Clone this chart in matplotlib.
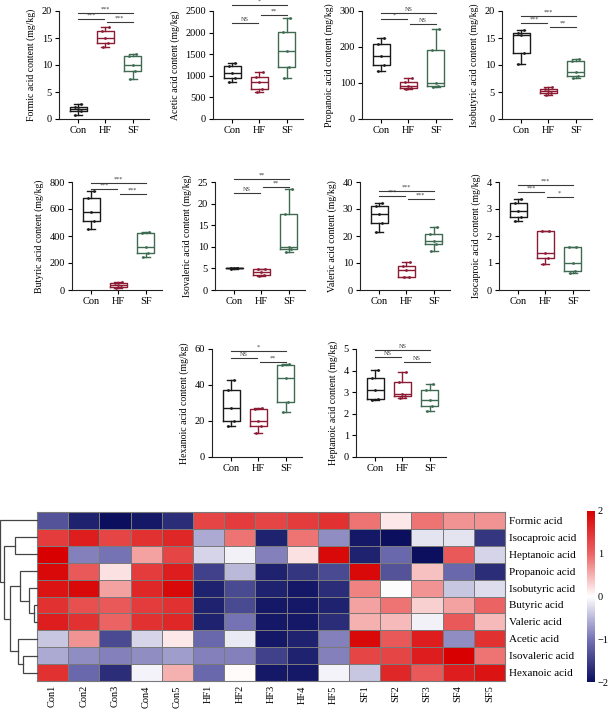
import numpy as np
import matplotlib
matplotlib.use("Agg")
import matplotlib.pyplot as plt
from matplotlib.colors import LinearSegmentedColormap

plt.rcParams['font.family'] = ['Liberation Serif', 'DejaVu Serif']

# ---------------- box plot data ----------------
groups = ["Con", "HF", "SF"]
box_acids = ["Formic", "Acetic", "Propanoic", "Isobutyric", "Butyric",
             "Isovaleric", "Valeric", "Isocaproic", "Hexanoic", "Heptanoic"]
con_vals = [[0.8, 1.5, 1.8, 2.3, 2.7],
            [850, 960, 1070, 1220, 1300],
            [132, 150, 175, 208, 225],
            [10.2, 12.2, 15.6, 16.0, 16.5],
            [450, 510, 580, 680, 730],
            [4.9, 5.0, 5.0, 5.1, 5.2],
            [21.5, 24.7, 28.0, 31.0, 32.2],
            [2.55, 2.72, 2.93, 3.22, 3.38],
            [17, 20, 27, 37, 43],
            [2.65, 2.7, 3.1, 3.65, 4.05]]
hf_vals = [[13.4, 14.1, 15.0, 16.3, 17.0],
           [620, 700, 850, 980, 1080],
           [82, 85, 92, 104, 115],
           [4.4, 4.8, 5.1, 5.5, 5.9],
           [18, 25, 35, 50, 62],
           [3.2, 3.5, 4.2, 4.8, 4.9],
           [4.8, 5.0, 7.3, 8.8, 10.3],
           [0.95, 1.18, 1.38, 2.18, 2.2],
           [13.5, 17, 20, 26.5, 27],
           [2.72, 2.82, 2.9, 3.45, 3.95]]
sf_vals = [[7.4, 8.8, 10.0, 11.6, 12.0],
           [950, 1200, 1580, 2010, 2330],
           [88, 92, 100, 193, 250],
           [7.6, 8.0, 8.7, 10.8, 11.2],
           [245, 275, 320, 420, 430],
           [8.7, 9.5, 9.9, 17.7, 23.3],
           [14.5, 16.9, 18.3, 20.9, 23.3],
           [0.62, 0.72, 1.0, 1.6, 1.6],
           [25, 30.5, 44, 51, 51.5],
           [2.15, 2.35, 2.62, 3.1, 3.38]]
y_max = [20, 2500, 300, 20, 800, 25, 40, 4, 60, 5]
y_step = [5, 500, 100, 5, 200, 5, 10, 1, 20, 1]

sig_con_sf = ["***", "*", "NS", "***", "***", "**", "***", "***", "*", "NS"]
sig_con_hf = ["***", "NS", "*", "***", "***", "NS", "***", "***", "NS", "NS"]
sig_hf_sf = ["***", "**", "NS", "**", "***", "**", "***", "*", "**", "NS"]
bar_con_sf = [19.7, 2640, 294, 19.1, 795, 25.6, 36.8, 3.9, 59, 4.95]
bar_con_hf = [18.5, 2220, 278, 17.8, 750, 22.5, 35.0, 3.63, 55, 4.63]
bar_hf_sf = [17.9, 2406, 264, 17.0, 712, 23.9, 33.6, 3.45, 52.8, 4.4]

# ---------------- heatmap data ----------------
heat_rows = ["Formic acid", "Isocaproic acid", "Heptanoic acid", "Propanoic acid",
             "Isobutyric acid", "Butyric acid", "Valeric acid", "Acetic acid",
             "Isovaleric acid", "Hexanoic acid"]
heat_cols = ["Con1", "Con2", "Con3", "Con4", "Con5",
             "HF1", "HF2", "HF3", "HF4", "HF5",
             "SF1", "SF2", "SF3", "SF4", "SF5"]
heat_vals = [
    [-1.3, -1.8, -2.0, -1.9, -1.7, 1.3, 1.4, 1.3, 1.4, 1.5, 0.9, 0.15, 0.9, 0.7, 0.7],
    [1.4, 1.7, 1.3, 1.5, 1.6, -0.6, 0.9, -1.8, 0.9, -0.8, -1.9, -2.0, -0.2, -0.2, -1.6],
    [2.0, -0.9, -1.0, 0.6, 1.3, -0.3, -0.1, -0.9, 0.2, 1.9, -1.8, -1.1, -2.0, 1.1, -0.3],
    [1.9, 1.1, 0.2, 1.4, 1.7, -1.5, -0.5, -1.8, -1.6, -1.4, 1.9, -1.3, 0.4, -1.1, -1.7],
    [1.8, 1.9, 0.6, 1.6, 1.9, -1.8, -1.4, -1.8, -1.9, -1.7, 0.8, -0.02, 0.7, -0.4, -0.25],
    [1.5, 1.2, 1.1, 1.4, 1.5, -1.8, -1.4, -1.9, -1.9, -1.8, 0.6, 0.9, 0.3, 0.6, 1.0],
    [1.7, 1.5, 1.0, 1.5, 1.6, -1.8, -1.0, -1.9, -1.9, -1.7, 0.5, 0.45, -0.1, 1.1, 0.45],
    [-0.4, 0.7, -1.4, -0.3, 0.15, -1.1, -0.15, -1.9, -1.8, -0.9, 1.9, 1.1, 1.7, -0.8, 1.5],
    [-0.6, -0.8, -0.9, -0.8, -0.7, -0.9, -0.9, -1.5, -1.8, -0.9, 1.3, 1.3, 1.7, 2.0, 0.9],
    [1.5, -1.1, -1.7, -0.08, 0.5, -1.1, 0.03, -1.9, -1.9, -0.08, -0.4, 1.6, 1.1, 1.7, 1.8],
]
# dendrogram merges (left child, right child, height); leaves 0..9, new nodes 10..
dendro_merges = [(5, 6, 10), (4, 10, 25), (8, 9, 42), (3, 11, 50), (7, 12, 58),
                 (1, 2, 65), (13, 14, 82), (15, 16, 100), (0, 17, 110)]

# ---------------- figure ----------------
W, H = 611, 710
fig = plt.figure(figsize=(W / 100, H / 100), dpi=100)

def px_axes(left, bottom, width, height):
    return fig.add_axes([left / W, (H - bottom) / H, width / W, height / H])

panel_left = [59, 213, 362, 502, 72, 215, 360, 499, 212, 356]
panel_bottom = [119, 119, 119, 119, 290, 290, 290, 290, 457, 457]
group_colors = ["#1a1a1a", "#8b1c34", "#3f6b52"]
pt_offsets = [-0.1, 0.1, 0.0, -0.12, 0.12]
line_col = "#3a3a3a"

for i, acid in enumerate(box_acids):
    ax = px_axes(panel_left[i], panel_bottom[i], 90, 108)
    data = [con_vals[i], hf_vals[i], sf_vals[i]]
    for g in range(3):
        c = group_colors[g]
        ax.boxplot([data[g]], positions=[g + 1], widths=0.62, whis=(0, 100),
                   showfliers=False, patch_artist=False, capwidths=0.3,
                   boxprops=dict(color=c, linewidth=1.0),
                   whiskerprops=dict(color=c, linewidth=1.0),
                   capprops=dict(color=c, linewidth=1.0),
                   medianprops=dict(color=c, linewidth=1.0))
        xs = [g + 1 + o for o in pt_offsets]
        ax.scatter(xs, data[g], s=4, color=c, zorder=3, linewidths=0)
    ax.set_xlim(0.3, 3.6)
    ax.set_ylim(0, y_max[i])
    ax.set_yticks(np.arange(0, y_max[i] + y_step[i] / 2, y_step[i]))
    ax.set_xticks([1, 2, 3])
    ax.set_xticklabels(groups, fontsize=7.5)
    ax.tick_params(axis='y', labelsize=7.5, length=3, width=0.8, pad=2)
    ax.tick_params(axis='x', length=3, width=0.8, pad=2)
    for s in ["top", "right"]:
        ax.spines[s].set_visible(False)
    for s in ["left", "bottom"]:
        ax.spines[s].set_linewidth(0.8)
        ax.spines[s].set_color("#222222")
    ax.set_ylabel(f"{acid} acid content (mg/kg)", fontsize=7, labelpad=4)

    # significance bars
    ytxt = y_max[i] * 0.012
    for (x1, x2, h, lab) in [(1, 3, bar_con_sf[i], sig_con_sf[i]),
                             (1, 1.95, bar_con_hf[i], sig_con_hf[i]),
                             (2.05, 3, bar_hf_sf[i], sig_hf_sf[i])]:
        ax.plot([x1, x2], [h, h], color=line_col, lw=0.8, clip_on=False)
        ax.text((x1 + x2) / 2, h + ytxt, lab, ha='center', va='bottom',
                fontsize=4.5, color=line_col, clip_on=False)

# ---------------- heatmap ----------------
cmap = LinearSegmentedColormap.from_list(
    "nwr", [(0.0, "#0b0f5e"), (0.25, "#7572b5"), (0.5, "#ffffff"),
            (0.75, "#ec6464"), (1.0, "#d80000")])
hx0, hx1, hy0, hy1 = 37, 505, 512, 681
hax = px_axes(hx0, hy1, hx1 - hx0, hy1 - hy0)
arr = np.array(heat_vals)
mesh = hax.pcolormesh(np.arange(arr.shape[1] + 1), np.arange(arr.shape[0] + 1), arr,
                      cmap=cmap, vmin=-2, vmax=2, edgecolors="#7a7a7a", linewidth=0.7)
hax.set_xlim(0, arr.shape[1])
hax.set_ylim(arr.shape[0], 0)
hax.set_xticks(np.arange(arr.shape[1]) + 0.5)
hax.set_xticklabels(heat_cols, rotation=90, fontsize=7.5)
hax.yaxis.tick_right()
hax.set_yticks(np.arange(arr.shape[0]) + 0.5)
hax.set_yticklabels(heat_rows, fontsize=8)
hax.tick_params(length=0, pad=3)
for s in hax.spines.values():
    s.set_color("#7a7a7a")
    s.set_linewidth(0.8)

# dendrogram
dax = px_axes(0, hy1, hx0, hy1 - hy0)
n = len(heat_rows)
pos = {k: k + 0.5 for k in range(n)}
hgt = {k: 0.0 for k in range(n)}
for j, (a, b, h) in enumerate(dendro_merges):
    node = n + j
    dax.plot([hgt[a], h, h, hgt[b]], [pos[a], pos[a], pos[b], pos[b]],
             color="#444444", lw=0.9, solid_joinstyle='miter', clip_on=False)
    pos[node] = (pos[a] + pos[b]) / 2
    hgt[node] = h
max_h = max(m[2] for m in dendro_merges)
dax.set_xlim(max_h * 1.01, 0)
dax.set_ylim(n, 0)
dax.axis("off")

# colorbar
cax = px_axes(587, 682, 8, 171)
cb = fig.colorbar(mesh, cax=cax, ticks=[-2, -1, 0, 1, 2])
cb.outline.set_visible(False)
cb.ax.tick_params(length=0, labelsize=7.5, pad=2)
cb.ax.set_yticklabels(["\u22122", "\u22121", "0", "1", "2"])

fig.savefig("out.png", dpi=100)
